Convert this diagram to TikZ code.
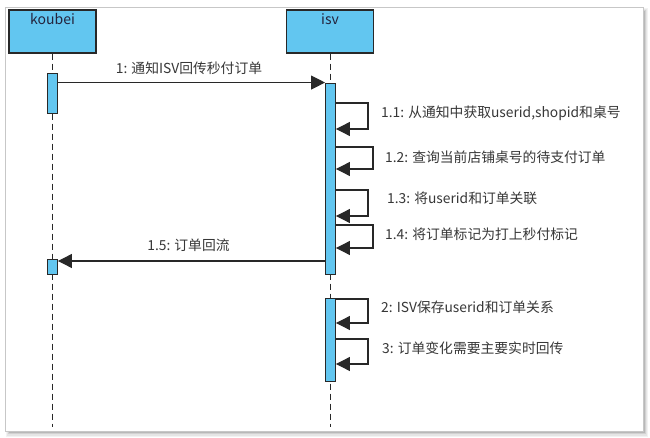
\documentclass[tikz,border=0pt]{standalone}
\usepackage{fontspec}
\newfontfamily\cjk{Noto Sans CJK SC}
\usetikzlibrary{arrows.meta}
\definecolor{actblue}{RGB}{98,198,240}
\definecolor{txt}{RGB}{55,55,55}
\definecolor{ln}{RGB}{40,40,40}
\tikzset{
  participant/.style={draw=ln, line width=1.1pt, fill=actblue, minimum width=87pt, minimum height=43pt, inner sep=0pt},
  ptext/.style={font=\cjk\fontsize{14}{16}\selectfont, text=ln!90!blue, inner sep=0pt, anchor=center},
  lifeline/.style={draw=ln, line width=0.9pt, dash pattern=on 6pt off 4pt},
  activation/.style={draw=ln, line width=0.9pt, fill=actblue, minimum width=10pt, inner sep=0pt},
  msg/.style={draw=ln, line width=1.1pt, -{Triangle[length=14pt,width=14pt]}},
  lbl/.style={font=\cjk\fontsize{13.8}{16}\selectfont, text=txt, inner sep=0pt},
}
\begin{document}
\begin{tikzpicture}[x=1pt,y=-1pt]
\useasboundingbox (0,0) rectangle (650,438);
% frame with soft shadow
\fill[black!5] (6,8) rectangle (648,437);
\fill[black!10] (7,9) rectangle (647,436);
\fill[black!18] (8,10) rectangle (646,434);
\fill[black!28] (9,11) rectangle (645,433);
\filldraw[fill=white, draw=black!22, line width=0.6pt] (5,7) rectangle (643,431);

% participants
\node[participant] (koubei) at (52.5,31.5) {};
\node[ptext] (koubeiT) at (52.5,19) {koubei};
\node[participant] (isv) at (330,31.5) {};
\node[ptext] (isvT) at (330,19) {isv};

% lifeline ends
\coordinate (kEnd) at (52.5,427);
\coordinate (iEnd) at (330.5,427);
\draw[lifeline] (koubei.south) -- (kEnd);
\draw[lifeline] (isv.south -| iEnd) -- (iEnd);

% activations
\node[activation, minimum height=40pt] (ka1) at (52.5,93) {};
\node[activation, minimum height=15pt] (ka2) at (52.5,266.5) {};
\node[activation, minimum height=191pt] (ia1) at (330.5,178.5) {};
\node[activation, minimum height=83pt] (ia2) at (330.5,339.5) {};

% message 1
\draw[msg] (ka1.east |- ia1.north) -- (ia1.north west);
\node[lbl] (l1) at (189,68) {1: 通知ISV回传秒付订单};

% self loops on ia1
\coordinate (a1) at (368,103);  \coordinate (b1) at (368,129);
\coordinate (a2) at (373,147);  \coordinate (b2) at (373,169);
\coordinate (a3) at (368,190);  \coordinate (b3) at (368,216);
\coordinate (a4) at (373,225);  \coordinate (b4) at (373,248);
\draw[msg] (ia1.east |- a1) -- (a1) -- (b1) -- (ia1.east |- b1);
\draw[msg] (ia1.east |- a2) -- (a2) -- (b2) -- (ia1.east |- b2);
\draw[msg] (ia1.east |- a3) -- (a3) -- (b3) -- (ia1.east |- b3);
\draw[msg] (ia1.east |- a4) -- (a4) -- (b4) -- (ia1.east |- b4);
\node[lbl, anchor=west] (l11) at (381,113) {1.1: 从通知中获取userid,shopid和桌号};
\node[lbl, anchor=west] (l12) at (385,157) {1.2: 查询当前店铺桌号的待支付订单};
\node[lbl, anchor=west] (l13) at (387,198) {1.3: 将userid和订单关联};
\node[lbl, anchor=west] (l14) at (385,234) {1.4: 将订单标记为打上秒付标记};

% message 1.5
\coordinate (m15) at (0,261);
\draw[msg] (ia1.west |- m15) -- (ka2.east |- m15);
\node[lbl] (l15) at (188.5,245) {1.5: 订单回流};

% self loops on ia2
\coordinate (a5) at (368,299);  \coordinate (b5) at (368,323);
\coordinate (a6) at (368,339);  \coordinate (b6) at (368,364);
\draw[msg] (ia2.east |- a5) -- (a5) -- (b5) -- (ia2.east |- b5);
\draw[msg] (ia2.east |- a6) -- (a6) -- (b6) -- (ia2.east |- b6);
\node[lbl, anchor=west] (l2) at (381,307) {2: ISV保存userid和订单关系};
\node[lbl, anchor=west] (l3) at (382,348) {3: 订单变化需要主要实时回传};
\end{tikzpicture}
\end{document}
